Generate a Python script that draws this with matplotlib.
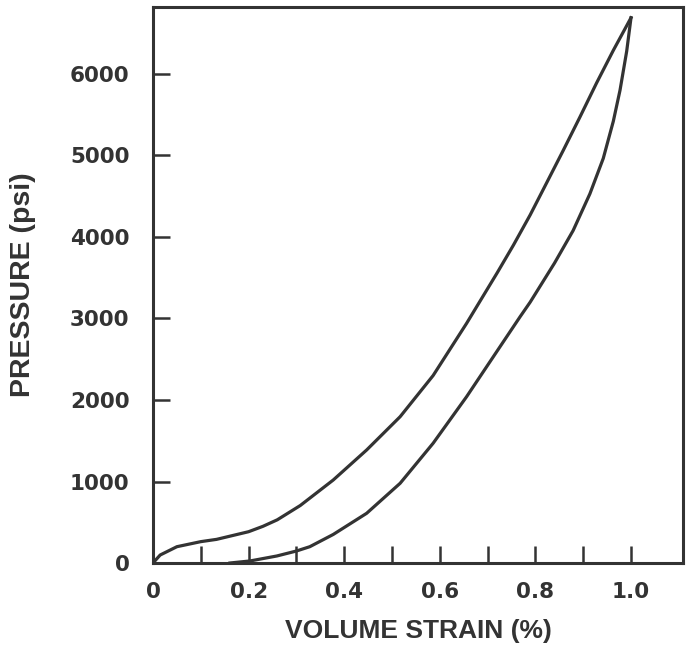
import matplotlib
matplotlib.use("Agg")
import matplotlib.pyplot as plt

# Loading (upper) curve
load_strain = [0.0, 0.015, 0.05, 0.10, 0.133, 0.20, 0.23, 0.26, 0.308, 0.377, 0.447, 0.517,
               0.586, 0.656, 0.72, 0.754, 0.789, 0.824, 0.858, 0.893, 0.928, 0.963, 1.0]
load_press = [0, 98, 200, 262, 290, 384, 450, 530, 705, 1018, 1387, 1795,
              2300, 2940, 3560, 3900, 4270, 4670, 5060, 5470, 5890, 6290, 6690]
# Unloading (lower) curve
unload_strain = [1.0, 0.991, 0.977, 0.963, 0.942, 0.914, 0.879, 0.84, 0.789, 0.768,
                 0.726, 0.656, 0.586, 0.517, 0.447, 0.377, 0.328, 0.30, 0.259, 0.203, 0.161]
unload_press = [6690, 6280, 5800, 5420, 4965, 4530, 4080, 3680, 3200, 3022,
                2654, 2040, 1469, 978, 610, 350, 200, 147, 86, 25, 0]

xticks = [0.0, 0.1, 0.2, 0.3, 0.4, 0.5, 0.6, 0.7, 0.8, 0.9, 1.0]
xticklabels = ["0", "", "0.2", "", "0.4", "", "0.6", "", "0.8", "", "1.0"]
yticks = [0, 1000, 2000, 3000, 4000, 5000, 6000]
yticklabels = ["0", "1000", "2000", "3000", "4000", "5000", "6000"]

ink = "#333333"
plt.rcParams['font.family'] = ['DejaVu Sans']

fig = plt.figure(figsize=(6.9, 6.48), dpi=100)
ax = fig.add_axes([153/690, 1 - 563/648, 530/690, 556/648])

ax.plot(load_strain, load_press, color=ink, lw=2.3, solid_joinstyle='round')
ax.plot(unload_strain, unload_press, color=ink, lw=2.3, solid_joinstyle='round')

ax.set_xlim(0, 530/478)
ax.set_ylim(0, 556/81.5*1000)

ax.set_xticks(xticks)
ax.set_xticklabels(xticklabels)
ax.set_yticks(yticks)
ax.set_yticklabels(yticklabels)
ax.tick_params(axis='both', direction='in', length=12, width=1.8, color=ink,
               labelsize=15.5, labelcolor=ink)
ax.tick_params(axis='y', pad=17)
ax.tick_params(axis='x', pad=14)
for lab in ax.get_xticklabels() + ax.get_yticklabels():
    lab.set_fontweight('bold')

for s in ax.spines.values():
    s.set_linewidth(2.2)
    s.set_color(ink)

ax.set_xlabel("VOLUME STRAIN (%)", fontsize=19, fontweight='bold', color=ink,
              labelpad=12, family=['Liberation Sans', 'DejaVu Sans'])
ax.set_ylabel("PRESSURE (psi)", fontsize=20.5, fontweight='bold', color=ink,
              labelpad=24, family=['Liberation Sans', 'DejaVu Sans'])

fig.savefig("out.png", dpi=100, facecolor='white')
